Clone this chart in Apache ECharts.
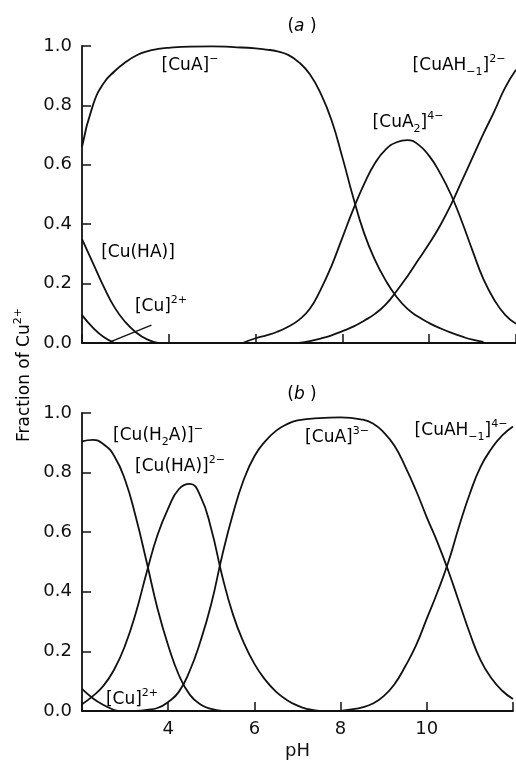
<!DOCTYPE html>
<html>
<head>
<meta charset="utf-8">
<script src="https://cdn.jsdelivr.net/npm/echarts@6/dist/echarts.min.js"></script>
<style>
  html, body { margin: 0; padding: 0; background: #fff; }
  #board { width: 516px; height: 761px; }
</style>
</head>
<body>
<div id="board"></div>
<script>
// panel (a)
var phCuA_a = [2.0, 2.25, 2.5, 2.75, 3.0, 3.25, 3.5, 3.75, 4.0, 4.5, 5.0, 5.5, 6.0, 6.25, 6.5, 6.75, 7.0, 7.25, 7.5, 7.75, 8.0, 8.25, 8.5, 8.75, 9.0, 9.25, 9.5, 9.75, 10.0, 10.25, 10.5, 10.75, 11.0, 11.25];
var fracCuA_a = [0.66, 0.80, 0.875, 0.915, 0.945, 0.968, 0.982, 0.99, 0.994, 0.998, 0.999, 0.996, 0.992, 0.988, 0.982, 0.97, 0.945, 0.905, 0.84, 0.75, 0.625, 0.49, 0.37, 0.28, 0.21, 0.155, 0.115, 0.088, 0.067, 0.05, 0.035, 0.022, 0.011, 0.004];
var phCuHA_a = [2.0, 2.25, 2.5, 2.75, 3.0, 3.25, 3.5, 3.75];
var fracCuHA_a = [0.35, 0.27, 0.19, 0.12, 0.07, 0.035, 0.012, 0.0];
var phCu_a = [2.0, 2.25, 2.5, 2.75];
var fracCu_a = [0.094, 0.052, 0.02, 0.0];
var phCuA2_a = [5.7, 6.0, 6.25, 6.5, 6.75, 7.0, 7.25, 7.5, 7.75, 8.0, 8.25, 8.5, 8.75, 9.0, 9.25, 9.5, 9.75, 10.0, 10.25, 10.5, 10.75, 11.0, 11.25, 11.5, 11.75, 12.0];
var fracCuA2_a = [0.0, 0.016, 0.026, 0.038, 0.055, 0.078, 0.115, 0.18, 0.26, 0.355, 0.45, 0.535, 0.605, 0.652, 0.676, 0.683, 0.668, 0.63, 0.572, 0.5, 0.41, 0.31, 0.215, 0.145, 0.095, 0.065];
var phCuAH_a = [7.0, 7.25, 7.5, 7.75, 8.0, 8.25, 8.5, 8.75, 9.0, 9.25, 9.5, 9.75, 10.0, 10.25, 10.5, 10.75, 11.0, 11.25, 11.5, 11.75, 12.0];
var fracCuAH_a = [0.0, 0.006, 0.015, 0.026, 0.04, 0.055, 0.075, 0.098, 0.13, 0.175, 0.225, 0.28, 0.335, 0.395, 0.465, 0.545, 0.625, 0.705, 0.78, 0.86, 0.92];
// leader line for [Cu]2+ label in (a)
var phLeader_a = [2.65, 3.6];
var fracLeader_a = [0.004, 0.06];

// panel (b)
var phCuH2A_b = [2.0, 2.25, 2.5, 2.75, 3.0, 3.25, 3.5, 3.75, 4.0, 4.25, 4.5, 4.75, 5.0, 5.25];
var fracCuH2A_b = [0.905, 0.91, 0.895, 0.855, 0.775, 0.65, 0.50, 0.345, 0.22, 0.12, 0.055, 0.022, 0.007, 0.0];
var phCuHA_b = [2.0, 2.25, 2.5, 2.75, 3.0, 3.25, 3.5, 3.75, 4.0, 4.25, 4.5, 4.75, 5.0, 5.25, 5.5, 5.75, 6.0, 6.25, 6.5, 6.75, 7.0, 7.25, 7.5];
var fracCuHA_b = [0.023, 0.05, 0.085, 0.14, 0.22, 0.33, 0.465, 0.59, 0.68, 0.745, 0.762, 0.72, 0.61, 0.455, 0.325, 0.23, 0.158, 0.105, 0.065, 0.037, 0.018, 0.006, 0.0];
var phCuA_b = [3.25, 3.5, 3.75, 4.0, 4.25, 4.5, 4.75, 5.0, 5.25, 5.5, 5.75, 6.0, 6.25, 6.5, 6.75, 7.0, 7.5, 8.0, 8.5, 8.75, 9.0, 9.25, 9.5, 9.75, 10.0, 10.25, 10.5, 10.75, 11.0, 11.25, 11.5, 11.75, 12.0];
var fracCuA_b = [0.0, 0.004, 0.01, 0.03, 0.065, 0.135, 0.235, 0.36, 0.52, 0.66, 0.775, 0.855, 0.905, 0.94, 0.962, 0.975, 0.983, 0.985, 0.978, 0.965, 0.935, 0.89, 0.82, 0.74, 0.65, 0.565, 0.47, 0.365, 0.26, 0.17, 0.11, 0.068, 0.04];
var phCuAH_b = [8.0, 8.25, 8.5, 8.75, 9.0, 9.25, 9.5, 9.75, 10.0, 10.25, 10.5, 10.75, 11.0, 11.25, 11.5, 11.75, 12.0];
var fracCuAH_b = [0.0, 0.005, 0.012, 0.025, 0.05, 0.09, 0.15, 0.22, 0.31, 0.40, 0.50, 0.62, 0.73, 0.82, 0.88, 0.925, 0.955];
var phCu_b = [2.0, 2.25, 2.5, 2.75, 2.85];
var fracCu_b = [0.074, 0.043, 0.02, 0.003, 0.0];

var xTickLabels = [4, 6, 8, 10];

var FONT = "'DejaVu Sans', 'Liberation Sans', sans-serif";
var INK = "#111";

function pts(xs, ys) {
  return xs.map(function (x, i) { return [x, ys[i]]; });
}

function curve(xs, ys, idx) {
  return {
    type: "line",
    xAxisIndex: idx,
    yAxisIndex: idx,
    data: pts(xs, ys),
    showSymbol: false,
    smooth: 0.5,
    lineStyle: { color: INK, width: 1.8 },
    silent: true
  };
}

function xAxisOf(idx, showLabels) {
  return {
    type: "value",
    gridIndex: idx,
    min: 2,
    max: 12,
    interval: 2,
    name: showLabels ? "pH" : "",
    nameLocation: "middle",
    nameGap: 31,
    nameTextStyle: { color: INK, fontSize: 18, fontFamily: FONT },
    axisLine: { lineStyle: { color: INK, width: 1.8 } },
    axisTick: { inside: true, length: 9, lineStyle: { color: INK, width: 1.5 } },
    axisLabel: {
      show: showLabels,
      margin: 9,
      color: INK,
      fontSize: 18,
      fontFamily: FONT,
      formatter: function (v) { return xTickLabels.indexOf(v) >= 0 ? String(v) : ""; }
    },
    splitLine: { show: false }
  };
}

function yAxisOf(idx) {
  return {
    type: "value",
    gridIndex: idx,
    min: 0,
    max: 1,
    interval: 0.2,
    axisLine: { show: true, lineStyle: { color: INK, width: 1.8 } },
    axisTick: { show: true, inside: true, length: 9, lineStyle: { color: INK, width: 1.5 } },
    axisLabel: {
      margin: 10,
      color: INK,
      fontSize: 18,
      fontFamily: FONT,
      formatter: function (v) { return v.toFixed(1); }
    },
    splitLine: { show: false }
  };
}

var richStyle = {
  b: { fontSize: 17, fontFamily: FONT, color: INK, lineHeight: 24, verticalAlign: "middle" },
  i: { fontSize: 17, fontFamily: FONT, color: INK, fontStyle: "italic", lineHeight: 24, verticalAlign: "middle" },
  sup: { fontSize: 11, fontFamily: FONT, color: INK, lineHeight: 12, verticalAlign: "top" },
  sub: { fontSize: 11, fontFamily: FONT, color: INK, lineHeight: 10, verticalAlign: "bottom" }
};

function label(x, y, text) {
  return {
    type: "text",
    x: x,
    y: y,
    silent: true,
    style: {
      text: text,
      rich: richStyle,
      align: "center",
      verticalAlign: "middle"
    }
  };
}

var chart = echarts.init(document.getElementById("board"));
chart.setOption({
  backgroundColor: "#fff",
  animation: false,
  grid: [
    { left: 82, right: -10, top: 46, bottom: 418 },
    { left: 82, right: -10, top: 413, bottom: 49 }
  ],
  xAxis: [xAxisOf(0, false), xAxisOf(1, true)],
  yAxis: [yAxisOf(0), yAxisOf(1)],
  series: [
    curve(phCuA_a, fracCuA_a, 0),
    curve(phCuHA_a, fracCuHA_a, 0),
    curve(phCu_a, fracCu_a, 0),
    curve(phCuA2_a, fracCuA2_a, 0),
    curve(phCuAH_a, fracCuAH_a, 0),
    Object.assign(curve(phLeader_a, fracLeader_a, 0), { smooth: false, lineStyle: { color: INK, width: 1.4 } }),
    curve(phCuH2A_b, fracCuH2A_b, 1),
    curve(phCuHA_b, fracCuHA_b, 1),
    curve(phCuA_b, fracCuA_b, 1),
    curve(phCuAH_b, fracCuAH_b, 1),
    curve(phCu_b, fracCu_b, 1)
  ],
  graphic: [
    label(302, 27, "{b|(}{i|a}{b| )}"),
    label(302, 395, "{b|(}{i|b}{b| )}"),
    label(190, 66, "{b|[CuA]}{sup|\u2212}"),
    label(138, 253, "{b|[Cu(HA)]}"),
    label(161, 307, "{b|[Cu]}{sup|2+}"),
    label(408, 123, "{b|[CuA}{sub|2}{b|]}{sup|4\u2212}"),
    label(459, 66, "{b|[CuAH}{sub|\u22121}{b|]}{sup|2\u2212}"),
    label(158, 436, "{b|[Cu(H}{sub|2}{b|A)]}{sup|\u2212}"),
    label(180, 467, "{b|[Cu(HA)]}{sup|2\u2212}"),
    label(132, 700, "{b|[Cu]}{sup|2+}"),
    label(337, 438, "{b|[CuA]}{sup|3\u2212}"),
    label(461, 431, "{b|[CuAH}{sub|\u22121}{b|]}{sup|4\u2212}"),
    {
      type: "text",
      x: 25,
      y: 375,
      rotation: Math.PI / 2,
      silent: true,
      style: {
        text: "{b|Fraction of Cu}{sup|2+}",
        rich: richStyle,
        align: "center",
        verticalAlign: "middle"
      }
    }
  ]
});
</script>
</body>
</html>
